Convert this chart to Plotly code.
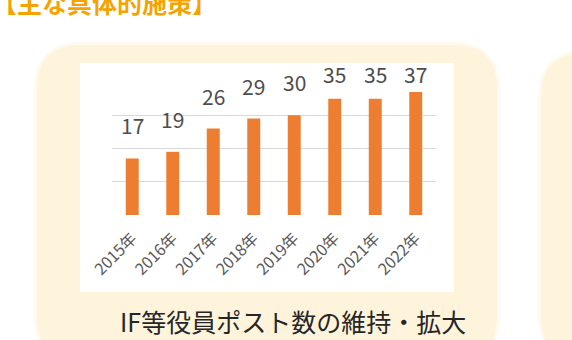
import plotly.graph_objects as go

W, H = 572, 340

years = ["2015年", "2016年", "2017年", "2018年", "2019年", "2020年", "2021年", "2022年"]
posts = [17, 19, 26, 29, 30, 35, 35, 37]
grid_values = [0, 10, 20, 30, 40]

title_text = "【主な具体的施策】"
caption_text = "IF等役員ポスト数の維持・拡大"

BAR_COLOR = "#ED7D31"
CREAM = "#FEF4DC"
GRID = "#D9D9D9"
FONT = "Noto Sans CJK JP"


def px(x):
    return x / W


def py(y):
    return 1 - y / H


def rounded_rect(x0, y0, x1, y1, r):
    X0, X1 = px(x0), px(x1)
    Y0, Y1 = py(y0), py(y1)
    rx, ry = r / W, r / H
    return (
        f"M {X0 + rx},{Y0} L {X1 - rx},{Y0} "
        f"Q {X1},{Y0} {X1},{Y0 - ry} L {X1},{Y1 + ry} "
        f"Q {X1},{Y1} {X1 - rx},{Y1} L {X0 + rx},{Y1} "
        f"Q {X0},{Y1} {X0},{Y1 + ry} L {X0},{Y0 - ry} "
        f"Q {X0},{Y0} {X0 + rx},{Y0} Z"
    )


fig = go.Figure()
fig.add_trace(
    go.Bar(
        x=years,
        y=posts,
        marker=dict(color=BAR_COLOR, line=dict(width=0)),
        hoverinfo="skip",
    )
)

shapes = []
for (x0, y0, x1, y1, r, col) in [
    (34, 42, 500, 363, 48, "#FFFAEF"),
    (37, 45, 497, 360, 44, CREAM),
    (538, 50, 800, 363, 48, "#FFFAEF"),
    (541, 53, 800, 360, 44, CREAM),
]:
    shapes.append(
        dict(type="path", path=rounded_rect(x0, y0, x1, y1, r), xref="paper", yref="paper",
             fillcolor=col, line=dict(width=0), layer="below")
    )
shapes.append(
    dict(type="rect", xref="paper", yref="paper", x0=px(80), x1=px(454), y0=py(292), y1=py(63),
         fillcolor="white", line=dict(width=0), layer="below")
)

annotations = []
label_cap = 32.5
for yr, v in zip(years, posts):
    annotations.append(
        dict(x=yr, y=min(v, label_cap), xref="x", yref="y", text=str(v), showarrow=False,
             yanchor="bottom", yshift=16, font=dict(family=FONT, size=21, color="#4D4D4D"))
    )

annotations.append(
    dict(x=px(-10), y=py(2.5), xref="paper", yref="paper", text=f"<b>{title_text}</b>",
         showarrow=False, xanchor="left", yanchor="middle",
         font=dict(family=FONT, size=25, color="#F5A300"))
)
annotations.append(
    dict(x=px(293), y=py(321), xref="paper", yref="paper", text=caption_text,
         showarrow=False, xanchor="center", yanchor="middle",
         font=dict(family=FONT, size=25, color="#262626"))
)

fig.update_layout(
    width=W,
    height=H,
    margin=dict(l=0, r=0, t=0, b=0, autoexpand=False),
    paper_bgcolor="white",
    plot_bgcolor="rgba(0,0,0,0)",
    showlegend=False,
    bargap=0.68,
    shapes=shapes,
    annotations=annotations,
    xaxis=dict(
        domain=[px(112), px(436)],
        tickangle=-45,
        tickfont=dict(family=FONT, size=16, color="#595959"),
        showgrid=False,
        showline=False,
        ticks="",
        ticklabelstandoff=10,
        fixedrange=True,
        automargin=False,
    ),
    yaxis=dict(
        domain=[py(215), py(215 - 40 * 3.325)],
        range=[0, 40],
        tickvals=grid_values,
        showticklabels=False,
        showgrid=True,
        gridcolor=GRID,
        gridwidth=1.3,
        zeroline=False,
        showline=False,
        fixedrange=True,
        automargin=False,
    ),
)

fig.write_html("out.html")
